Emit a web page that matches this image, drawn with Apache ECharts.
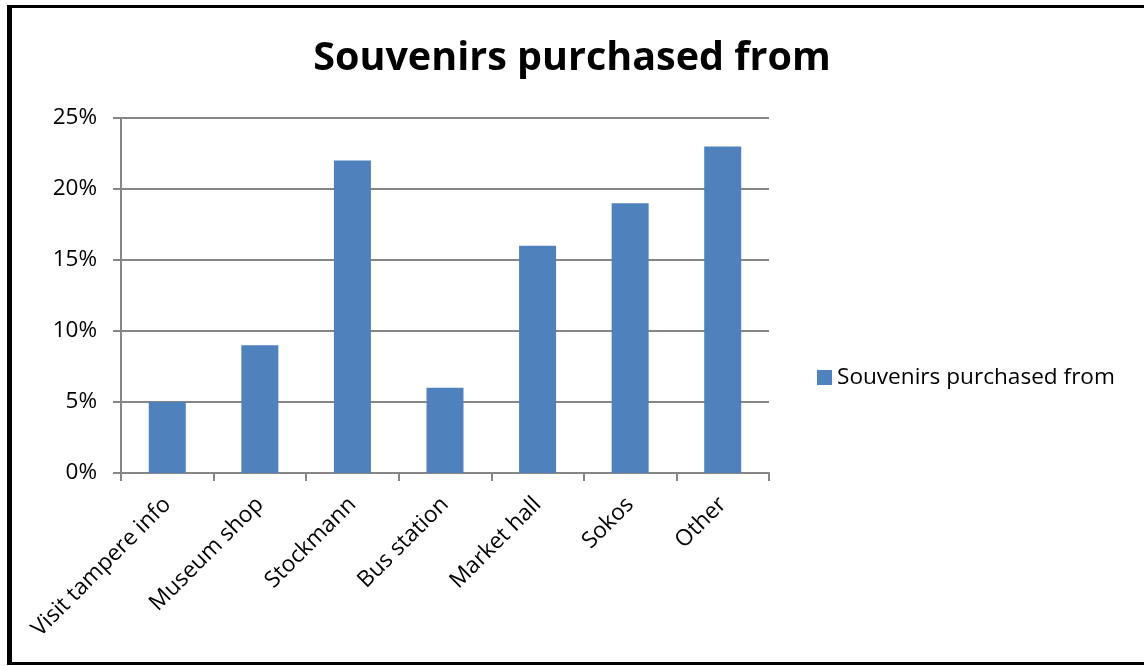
<!DOCTYPE html>
<html>
<head>
<meta charset="utf-8">
<script src="https://cdn.jsdelivr.net/npm/echarts@6/dist/echarts.min.js"></script>
<style>
html,body{margin:0;padding:0;background:#fff;}
#frame{position:absolute;left:7px;top:5px;width:1132px;height:654px;border-left:5px solid #000;border-top:3px solid #000;border-right:4px solid #000;border-bottom:3px solid #000;}
#chart{position:absolute;left:0;top:0;width:1144px;height:666px;}
</style>
</head>
<body>
<div id="frame"></div>
<div id="chart"></div>
<script>
const categories = ["Visit tampere info","Museum shop","Stockmann","Bus station","Market hall","Sokos","Other"];
const values = [5, 9, 22, 6, 16, 19, 23];
const seriesName = "Souvenirs purchased from";
const titleText = "Souvenirs purchased from";
const yTicks = {min:0, max:25, interval:5};

const font = "'Open Sans', 'Liberation Sans', sans-serif";
const chart = echarts.init(document.getElementById('chart'));
chart.setOption({
  animation:false,
  title:{text:titleText,left:'center',top:34,
    textStyle:{fontFamily:font,fontSize:39.5,fontWeight:'bold',color:'#000'}},
  legend:{data:[seriesName],orient:'vertical',left:812,top:361,itemWidth:15,itemHeight:15,itemGap:8,
    icon:'rect',textStyle:{fontFamily:font,fontSize:22.6,color:'#000'}},
  grid:{left:121,right:375,top:118,bottom:193,containLabel:false},
  xAxis:{type:'category',data:categories,boundaryGap:true,
    axisLine:{lineStyle:{color:'#868686',width:2}},
    axisTick:{show:true,interval:0,length:8,lineStyle:{color:'#868686',width:2}},
    axisLabel:{interval:0,rotate:45,margin:28,fontFamily:font,fontSize:22.6,color:'#000'}},
  yAxis:{type:'value',min:yTicks.min,max:yTicks.max,interval:yTicks.interval,
    axisLine:{show:true,lineStyle:{color:'#868686',width:2}},
    axisTick:{show:true,length:8,lineStyle:{color:'#868686',width:2}},
    axisLabel:{formatter:'{value}%',margin:24,fontFamily:font,fontSize:22.5,color:'#000'},
    splitLine:{lineStyle:{color:'#868686',width:2}}},
  series:[{name:seriesName,type:'bar',data:values,barWidth:37,itemStyle:{color:'#4F81BD'}}]
});
</script>
</body>
</html>
